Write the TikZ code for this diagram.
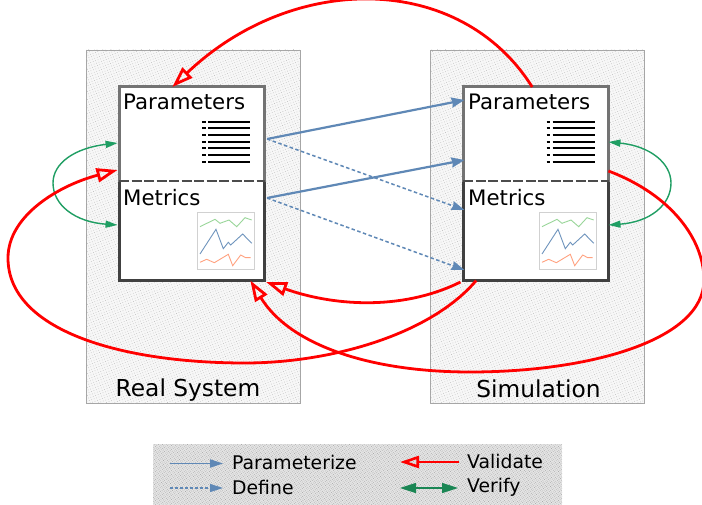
\documentclass[tikz,border=0pt]{standalone}
\usepackage{fontspec}
\setmainfont{DejaVu Sans}
\usetikzlibrary{arrows.meta,patterns.meta}
\definecolor{vblue}{HTML}{5F88B6}
\definecolor{vgreen}{HTML}{1F9E63}
\definecolor{vred}{HTML}{FF0000}
\tikzset{
 panel/.style={draw=black!35,line width=.6pt,fill=black!3},
 panelb/.style={pattern={Dots[distance=2.6pt,radius=.4pt,angle=20]},pattern color=black!30},
 legbg/.style={fill=black!10},
 legb/.style={pattern={Dots[distance=1.8pt,radius=.42pt,angle=30]},pattern color=black!38},
 box/.style={rectangle,fill=white,inner sep=0pt,minimum width=145.5pt},
 parbox/.style={box,draw=black!55,line width=3pt,minimum height=94pt},
 metbox/.style={box,draw=black!75,line width=3pt,minimum height=99pt},
 boxtitle/.style={anchor=west,inner sep=0pt,font=\fontsize{21.3}{24}\selectfont},
 captxt/.style={inner sep=0pt,font=\fontsize{23.3}{26}\selectfont},
 legtxt/.style={anchor=west,inner sep=0pt,font=\fontsize{18.8}{22}\selectfont},
 param/.style={draw=vblue,line width=2.2pt,-{Stealth[length=13pt,width=10pt,inset=1pt]}},
 defn/.style={draw=vblue,line width=1.5pt,dash pattern=on 3.5pt off 2.5pt,-{Stealth[length=13pt,width=9pt,inset=1pt]}},
 valid/.style={draw=vred,line width=2.8pt,-{Triangle[open,length=21pt,width=14pt]}},
 verif/.style={draw=vgreen,line width=1.4pt,{Stealth[length=12pt,width=7pt,inset=0pt]}-{Stealth[length=12pt,width=7pt,inset=0pt]}},
 listln/.style={draw=black,line width=1.8pt},
 thumb/.style={draw=black!18,line width=.7pt,fill=white,minimum size=57pt,inner sep=0pt},
}
\newcommand{\listicon}[2]{%
 \foreach \yy in {0,6.67,13.33,20,26.67,33.33,40}{
  \draw[listln] (#1,#2+\yy) -- (#1+3.5,#2+\yy);
  \draw[listln] (#1+6,#2+\yy) -- (#1+48,#2+\yy);
 }}
\newcommand{\chart}[2]{%
 \begin{scope}[shift={(#1,#2)},line width=.9pt]
 \draw[green!60!black!40] (0,26.7)--(15,19.3)--(20,23.3)--(29,20)--(36.7,26.7)--(45,17.7)--(51.7,20);
 \draw[vblue!90] (0,54)--(16,29.3)--(23.3,48.7)--(28.3,42.3)--(30.7,45)--(42.7,34)--(51.7,43.3);
 \draw[red!45!orange!50] (0,62.3)--(6.7,59.3)--(14.3,62.7)--(28.3,54.3)--(32.7,65.7)--(40.7,55)--(45.7,57.7)--(50.7,57.7);
 \end{scope}}
\begin{document}
\begin{tikzpicture}[x=1pt,y=-1pt]
\useasboundingbox[fill=white] (0,0) rectangle (702,505);
% panels
\path[panel] (86,50) rectangle (300,403);
\path[panelb] (86,50) rectangle (300,403);
\path[panel] (430,50) rectangle (644,403);
\path[panelb] (430,50) rectangle (644,403);
\path[legbg] (153,444) rectangle (562,505);
\path[legb] (153,444) rectangle (562,505);
\node[captxt] (capL) at (188,390.5) {Real System};
\node[captxt] (capR) at (538.5,389) {Simulation};
% boxes
\node[metbox] (metL) at (191.8,231) {};
\node[parbox] (parL) at (191.8,134) {};
\node[metbox] (metR) at (536.2,231) {};
\node[parbox] (parR) at (536.2,134) {};
\foreach \n in {metL,metR}{
 \draw[white,line width=4.4pt] ([shift={(3,1)}]\n.north west) -- ([shift={(-3,1)}]\n.north east);
 \draw[draw=black!70,line width=1.6pt,dash pattern=on 10pt off 2.5pt] ([shift={(1.5,1)}]\n.north west) -- ([shift={(-1.5,1)}]\n.north east);
}
\node[boxtitle] (tpL) at (123,102) {Parameters};
\node[boxtitle] (tmL) at (123,198) {Metrics};
\node[boxtitle] (tpR) at (468,102) {Parameters};
\node[boxtitle] (tmR) at (468,198) {Metrics};
\listicon{202}{121.7}
\listicon{546.5}{121.7}
\node[thumb] (thL) at (226,241) {};
\node[thumb] (thR) at (568,241) {};
\chart{200}{200}
\chart{542}{200}
% blue
\draw[param] ([shift={(1,5)}]parL.east) -- ([shift={(2.5,-34)}]parR.west);
\draw[param] ([shift={(1,-33)}]metL.east) -- ([shift={(2.5,-71)}]metR.west);
\draw[defn] ([shift={(1,5)}]parL.east) -- ([shift={(2.5,-21)}]metR.west);
\draw[defn] ([shift={(1,-33)}]metL.east) -- ([shift={(2.5,39)}]metR.west);
% green
\draw[verif] ([shift={(0,9)}]parL.west) .. controls (75,148) and (53,163) .. (53,183) .. controls (53,205) and (75,222) .. ([shift={(0,-6)}]metL.west);
\draw[verif] ([shift={(-2,8)}]parR.east) .. controls (650,146) and (671,163) .. (671,183) .. controls (671,205) and (650,222) .. ([shift={(-2,-6)}]metR.east);
% red
\draw[valid] ([xshift=-4pt,yshift=-1.5pt]parR.north) .. controls (460,-28) and (293,-28) .. ([xshift=-19.5pt,yshift=-1.5pt]parL.north);
\draw[valid] ([xshift=-60pt,yshift=1.5pt]metR.south) .. controls (430,335) and (330,363) .. (245,363) .. controls (120,363) and (8,330) .. (8,258) .. controls (8,215) and (60,185) .. ([shift={(0,36)}]parL.west);
\draw[valid] ([shift={(-2,37)}]parR.east) .. controls (672,195) and (704,240) .. (704,280) .. controls (704,340) and (590,372) .. (470,372) .. controls (370,372) and (290,345) .. ([xshift=58.5pt,yshift=1.5pt]metL.south);
\draw[valid] ([shift={(-1.5,0)}]metR.south west) .. controls (400,312) and (330,305) .. ([shift={(0,0)}]metL.south east);
% legend
\coordinate (lp1) at (170,463.5); \coordinate (lp2) at (223,463.5);
\coordinate (ld1) at (170,488); \coordinate (ld2) at (223,488);
\coordinate (lv1) at (459,462); \coordinate (lv2) at (400,462);
\coordinate (lg1) at (400,488); \coordinate (lg2) at (458,488);
\draw[draw=vblue,line width=1.8pt,-{Stealth[length=13pt,width=8pt,inset=0pt]}] (lp1) -- (lp2);
\draw[draw=vblue,line width=1.5pt,dash pattern=on 3pt off 2pt,-{Stealth[length=13pt,width=8pt,inset=0pt]}] (ld1) -- (ld2);
\draw[draw=vred,line width=1.8pt,-{Triangle[open,length=19pt,width=12pt,line width=2.6pt]}] (lv1) -- (lv2);
\draw[draw=vgreen!85!black,line width=1.6pt,{Stealth[length=16pt,width=10pt,inset=0pt]}-{Stealth[length=16pt,width=10pt,inset=0pt]}] (lg1) -- (lg2);
\node[legtxt] (t1) at (232,462) {Parameterize};
\node[legtxt] (t2) at (232,487) {Define};
\node[legtxt] (t3) at (467,461) {Validate};
\node[legtxt] (t4) at (467,487) {Verify};
\end{tikzpicture}
\end{document}
